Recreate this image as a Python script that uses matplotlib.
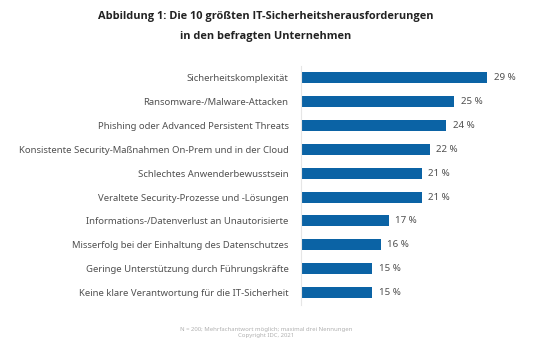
import matplotlib.pyplot as plt

# Daten aus der Abbildung
kategorien = [
    "Sicherheitskomplexität",
    "Ransomware-/Malware-Attacken",
    "Phishing oder Advanced Persistent Threats",
    "Konsistente Security-Maßnahmen On-Prem und in der Cloud",
    "Schlechtes Anwenderbewusstsein",
    "Veraltete Security-Prozesse und -Lösungen",
    "Informations-/Datenverlust an Unautorisierte",
    "Misserfolg bei der Einhaltung des Datenschutzes",
    "Geringe Unterstützung durch Führungskräfte",
    "Keine klare Verantwortung für die IT-Sicherheit",
]
werte = [29, 25, 24, 22, 21, 21, 17, 16, 15, 15]

plt.rcParams['font.family'] = ['Noto Sans', 'DejaVu Sans']

fig = plt.figure(figsize=(5.4, 3.48), dpi=100)
ax = fig.add_axes([301 / 540, 0.125, 219 / 540, 0.686])

x0 = 6.3
pos = list(range(len(werte)))
ax.barh(pos, [w - x0 for w in werte], left=x0, height=0.46, color='#0b63a5')
for p, w in zip(pos, werte):
    ax.text(w + 0.8, p, f"{w} %", va='center', ha='left', fontsize=7.0, color='#505050')

ax.set_xlim(x0, x0 + 219 / 8.2)
ax.set_ylim(len(werte) - 0.5, -0.5)
ax.set_yticks(pos)
ax.set_yticklabels(kategorien, fontsize=6.85, color='#505050')
ax.tick_params(axis='y', length=0, pad=9)
ax.set_xticks([])
for s in ['top', 'right', 'bottom']:
    ax.spines[s].set_visible(False)
ax.spines['left'].set_color('#e6e6e6')
ax.spines['left'].set_linewidth(0.8)

titel = ["Abbildung 1: Die 10 größten IT-Sicherheitsherausforderungen",
         "in den befragten Unternehmen"]
for zeile, y in zip(titel, [17, 37]):
    fig.text(265.5 / 540, 1 - y / 348, zeile, ha='center', va='center', fontsize=7.9,
             fontweight='bold', color='#222222', family=['Open Sans', 'DejaVu Sans'])

fig.text(266 / 540, 1 - 329 / 348, "N = 200; Mehrfachantwort möglich; maximal drei Nennungen",
         ha='center', va='center', fontsize=4.3, color='#b0b0b0')
fig.text(266 / 540, 1 - 336 / 348, "Copyright IDC, 2021",
         ha='center', va='center', fontsize=4.3, color='#b0b0b0')

fig.savefig("out.png", dpi=100)
